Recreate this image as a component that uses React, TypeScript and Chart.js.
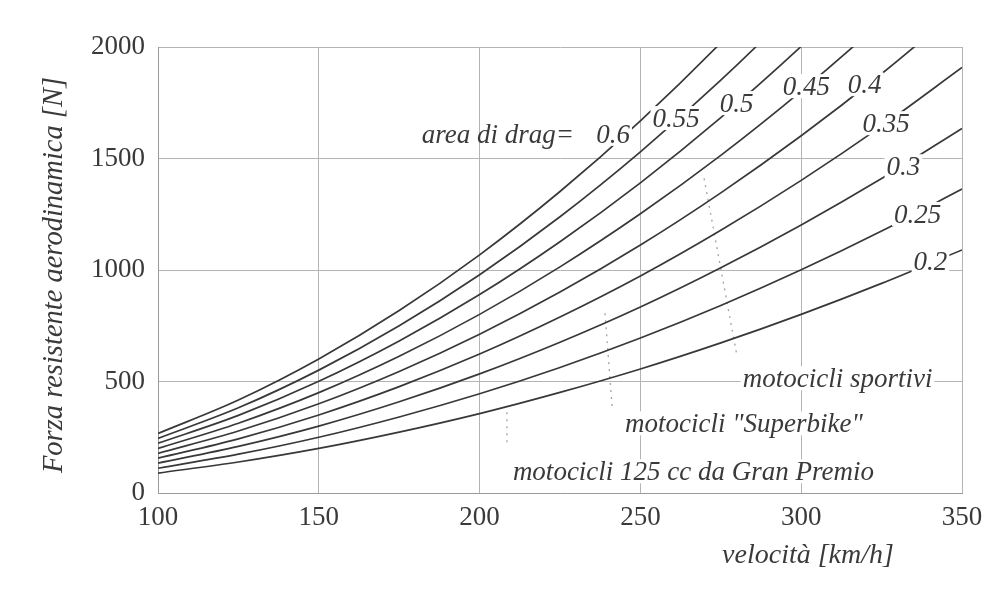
import React, { useEffect, useRef } from 'react';
import { Chart, registerables } from 'chart.js';

Chart.register(...registerables);

// velocità [km/h]
const speeds = [100, 125, 150, 175, 200, 225, 250, 275, 300, 325, 350];

// aerodynamic drag area for each curve
const dragAreas = ['0.2', '0.25', '0.3', '0.35', '0.4', '0.45', '0.5', '0.55', '0.6'];

// Forza resistente aerodinamica [N]
const force020 = [89, 139, 200, 273, 356, 451, 556, 673, 801, 940, 1090];
const force025 = [111, 174, 250, 341, 445, 563, 695, 841, 1001, 1175, 1363];
const force030 = [134, 209, 300, 409, 534, 676, 834, 1010, 1202, 1410, 1635];
const force035 = [156, 243, 350, 477, 623, 789, 973, 1178, 1402, 1645, 1908];
const force040 = [178, 278, 400, 545, 712, 901, 1112, 1346, 1602, 1880, 2180];
const force045 = [200, 313, 450, 613, 801, 1014, 1252, 1514, 1802, 2115, 2453];
const force050 = [223, 348, 501, 682, 890, 1127, 1391, 1683, 2003, 2350, 2726];
const force055 = [245, 382, 551, 750, 979, 1239, 1530, 1851, 2203, 2585, 2998];
const force060 = [267, 417, 601, 818, 1068, 1352, 1669, 2019, 2403, 2820, 3271];
const forceSeries = [force020, force025, force030, force035, force040, force045, force050, force055, force060];

// tick labels
const xTickValues = [100, 150, 200, 250, 300, 350];
const yTickValues = [0, 500, 1000, 1500, 2000];

// where each curve label sits (speed, force at text baseline)
const curveLabelSpeed = [340.2, 336.2, 331.8, 326.4, 319.7, 301.6, 279.9, 261.1, 241.5];
const curveLabelForce = [999, 1211, 1425, 1618, 1793, 1784, 1708, 1641, 1570];

// category notes (text, speed, force at baseline)
const noteTexts = ['motocicli sportivi', 'motocicli "Superbike"', 'motocicli 125 cc da Gran Premio'];
const noteSpeed = [311.3, 282.2, 266.5];
const noteForce = [474, 272, 57];

// dotted leader lines (speed/force endpoints)
const leaderSportivi = [{ x: 269.8, y: 1411 }, { x: 280.0, y: 617 }];
const leaderSuperbike = [{ x: 239.0, y: 806 }, { x: 241.2, y: 385 }];
const leaderGP = [{ x: 208.5, y: 362 }, { x: 208.5, y: 214 }];

const FONT_FAMILY = '"Liberation Serif", "DejaVu Serif", serif';
const TEXT_COLOR = '#3a3a3a';

const textPlugin = {
  id: 'dragTexts',
  afterDatasetsDraw(chart: any) {
    const { ctx, scales, chartArea } = chart;
    const xs = scales.x;
    const ys = scales.y;
    ctx.save();
    ctx.font = `italic 27px ${FONT_FAMILY}`;
    ctx.textBaseline = 'alphabetic';
    ctx.textAlign = 'center';

    const boxed = (t: string, px: number, py: number) => {
      const w = ctx.measureText(t).width;
      ctx.fillStyle = '#ffffff';
      ctx.fillRect(px - w / 2 - 2, py - 21, w + 4, 24);
      ctx.fillStyle = TEXT_COLOR;
      ctx.fillText(t, px, py);
    };

    dragAreas.forEach((t, i) => {
      boxed(t, xs.getPixelForValue(curveLabelSpeed[i]), ys.getPixelForValue(curveLabelForce[i]));
    });
    noteTexts.forEach((t, i) => {
      boxed(t, xs.getPixelForValue(noteSpeed[i]), ys.getPixelForValue(noteForce[i]));
    });

    // "area di drag="
    ctx.textAlign = 'right';
    ctx.fillStyle = TEXT_COLOR;
    ctx.fillText('area di drag=', xs.getPixelForValue(241.5) - 39, ys.getPixelForValue(1570));

    // axis titles
    ctx.font = `italic 28px ${FONT_FAMILY}`;
    ctx.textAlign = 'left';
    ctx.fillText('velocità [km/h]', xs.getPixelForValue(275.4), chartArea.bottom + 70);

    ctx.save();
    ctx.font = `italic 28.5px ${FONT_FAMILY}`;
    ctx.translate(chartArea.left - 96, (chartArea.top + chartArea.bottom) / 2 + 5);
    ctx.rotate(-Math.PI / 2);
    ctx.textAlign = 'center';
    ctx.fillText('Forza resistente aerodinamica [N]', 0, 0);
    ctx.restore();

    ctx.restore();
  },
};

export default function App() {
  const canvasRef = useRef<HTMLCanvasElement | null>(null);

  useEffect(() => {
    if (!canvasRef.current) return;
    const curveSets = forceSeries.map((vals, i) => ({
      label: dragAreas[i],
      data: speeds.map((s, j) => ({ x: s, y: vals[j] })),
      borderColor: '#383838',
      borderWidth: 1.7,
      pointRadius: 0,
      cubicInterpolationMode: 'monotone' as const,
      fill: false,
    }));
    const leaderSets = [leaderSportivi, leaderSuperbike, leaderGP].map((pts, i) => ({
      label: 'leader' + i,
      data: pts,
      borderColor: '#a8a8a8',
      borderWidth: 1.4,
      borderDash: [2, 5],
      pointRadius: 0,
      fill: false,
    }));

    const chart = new Chart(canvasRef.current, {
      type: 'line',
      data: { datasets: [...curveSets, ...leaderSets] as any },
      options: {
        animation: false,
        responsive: false,
        events: [],
        layout: { padding: { top: 47, right: 31, left: 0, bottom: 0 } },
        plugins: { legend: { display: false }, tooltip: { enabled: false } },
        scales: {
          x: {
            type: 'linear',
            min: 100,
            max: 350,
            afterBuildTicks: (s: any) => {
              s.ticks = xTickValues.map((v) => ({ value: v }));
            },
            afterFit: (s: any) => {
              s.height = 97;
            },
            grid: { color: '#b4b4b4', lineWidth: 1, drawTicks: false },
            border: { display: true, color: '#9a9a9a', width: 1 },
            ticks: {
              padding: 9,
              color: TEXT_COLOR,
              font: { family: FONT_FAMILY, size: 27 },
              maxRotation: 0,
              callback: (v: any) => String(v),
            },
          },
          y: {
            type: 'linear',
            min: 0,
            max: 2000,
            afterBuildTicks: (s: any) => {
              s.ticks = yTickValues.map((v) => ({ value: v }));
            },
            afterFit: (s: any) => {
              s.width = 158;
            },
            grid: { color: '#b4b4b4', lineWidth: 1, drawTicks: false },
            border: { display: true, color: '#9a9a9a', width: 1 },
            ticks: {
              padding: 13,
              color: TEXT_COLOR,
              font: { family: FONT_FAMILY, size: 27 },
              callback: (v: any) => String(v),
            },
          },
        },
      },
      plugins: [textPlugin],
    });
    return () => chart.destroy();
  }, []);

  return (
    <div style={{ position: 'fixed', left: 0, top: 0, width: 993, height: 590, background: '#ffffff' }}>
      <canvas ref={canvasRef} width={993} height={590} />
    </div>
  );
}
